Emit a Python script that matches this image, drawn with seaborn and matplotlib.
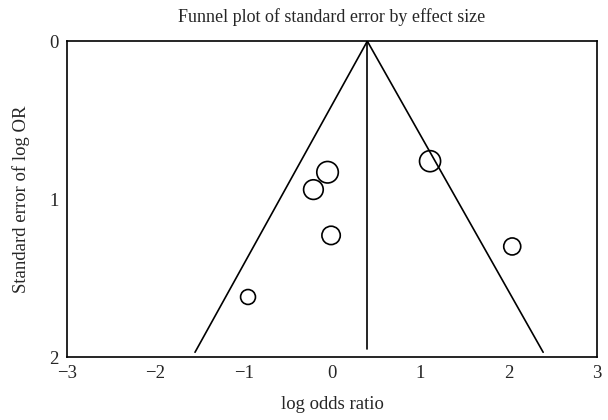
import numpy as np
import pandas as pd
import seaborn as sns
import matplotlib.pyplot as plt

# %% Data
log_or = [-0.05, -0.21, -0.01, 1.11, -0.95, 2.04]
se_log_or = [0.83, 0.94, 1.23, 0.76, 1.62, 1.30]
marker_area = [240, 200, 175, 230, 115, 150]

pooled = 0.40
funnel_se = [0.0, 1.97]
funnel_left = [0.40, -1.55]
funnel_right = [0.40, 2.39]
center_se = [0.0, 1.95]

df = pd.DataFrame({"log_or": log_or, "se": se_log_or})

# %% Plot
sns.set_theme(style="white")
plt.rcParams["font.family"] = ["Liberation Serif", "DejaVu Serif"]

fig = plt.figure(figsize=(6.08, 4.20), dpi=100)
ax = fig.add_axes([0.110, 0.150, 0.872, 0.752])

sns.lineplot(x=funnel_left, y=funnel_se, color="black", lw=1.2, sort=False,
             estimator=None, ax=ax)
sns.lineplot(x=funnel_right, y=funnel_se, color="black", lw=1.2, sort=False,
             estimator=None, ax=ax)
# vertical line at the pooled estimate (estimator=None so no CI band)
sns.lineplot(x=[pooled, pooled], y=center_se, color="black", lw=1.2, sort=False,
             estimator=None, ax=ax)
sns.scatterplot(data=df, x="log_or", y="se", s=marker_area, facecolor="none",
                edgecolor="black", linewidth=1.2, ax=ax, zorder=3)

ax.set_xlim(-3, 3)
ax.set_ylim(2, 0)
ax.set_xticks([-3, -2, -1, 0, 1, 2, 3])
ax.set_xticklabels(["\u22123", "\u22122", "\u22121", "0", "1", "2", "3"])
ax.set_yticks([0, 1, 2])
ax.tick_params(length=0, labelsize=13.5, pad=6)
for s in ax.spines.values():
    s.set_color("black")
    s.set_linewidth(1.2)

ax.set_title("Funnel plot of standard error by effect size", fontsize=13, pad=14)
ax.set_xlabel("log odds ratio", fontsize=13.5, labelpad=10)
ax.set_ylabel("Standard error of log OR", fontsize=13.5, labelpad=14)

plt.savefig("out.png", dpi=100)
